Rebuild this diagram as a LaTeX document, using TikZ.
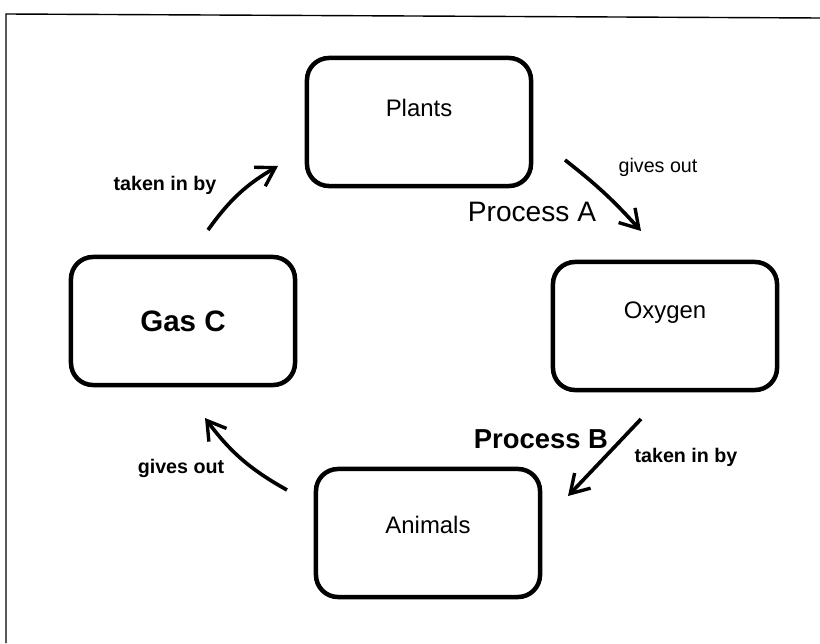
\documentclass[tikz,border=0pt]{standalone}
\usepackage{fontspec}
\setmainfont{Liberation Sans}
\usetikzlibrary{arrows.meta}

\begin{document}
\begin{tikzpicture}[x=0.025cm, y=-0.025cm]
\tikzstyle{cyclebox} = [draw, line width=3.2pt, rounded corners=0.55cm, minimum width=5.6cm, minimum height=3.2cm, font=\fontsize{17}{19}\selectfont]
\tikzstyle{flow} = [line width=2.6pt, -{Straight Barb[length=4.5mm, width=5.5mm, line width=2.4pt]}]
\tikzstyle{note} = [font=\bfseries\fontsize{14}{16}\selectfont]
\useasboundingbox (0,0) rectangle (820,643);
% frame
\draw[line width=1pt] (6,643) -- (6,14) -- (820,18);
% boxes
\node[cyclebox, text depth=20pt] (plants) at (419,122) {Plants};
\node[cyclebox, font=\bfseries\fontsize{21}{23}\selectfont] (gas) at (183,321) {Gas C};
\node[cyclebox, text depth=22pt] (oxygen) at (665,326) {Oxygen};
\node[cyclebox, text depth=12pt] (animals) at (428,533) {Animals};
% arrow ends
\coordinate (a1) at (208,230);
\coordinate (a2) at (278,166);
\coordinate (b1) at (565,160);
\coordinate (b2) at (641,231);
\coordinate (c1) at (641,419);
\coordinate (c2) at (568,496);
\coordinate (d1) at (287,490);
\coordinate (d2) at (205,418);
\draw[flow] (a1) to[bend left=12] (a2);
\draw[flow] (b1) to[bend left=5] (b2);
\draw[flow] (c1) to (c2);
\draw[flow] (d1) to[bend left=12] (d2);
% labels
\node[note] (l1) at (165,185) {taken in by};
\node[note, font=\fontsize{14}{16}\selectfont] (l2) at (658,167) {gives out};
\node[font=\fontsize{20}{22}\selectfont] (pa) at (532,212) {Process A};
\node[font=\bfseries\fontsize{19.5}{22}\selectfont] (pb) at (541,439) {Process B};
\node[note] (l3) at (686,457) {taken in by};
\node[note] (l4) at (181,468) {gives out};
\end{tikzpicture}
\end{document}
